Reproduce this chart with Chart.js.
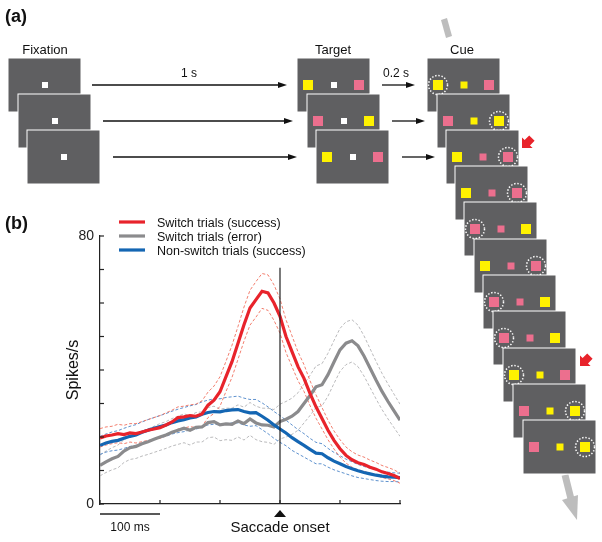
<!DOCTYPE html>
<html lang="en">

<head>
    <meta charset="UTF-8">
    <title>Switch trials - spikes around saccade onset</title>
    <style>
        * {
            margin: 0;
            padding: 0;
            box-sizing: border-box;
        }

        html,
        body {
            width: 602px;
            height: 542px;
            overflow: hidden;
            background: #fff;
            font-family: Arial, "Liberation Sans", sans-serif;
        }

        #wrap {
            position: absolute;
            left: 0;
            top: 190px;
            width: 420px;
            height: 352px;
        }

        #diagram {
            position: absolute;
            left: 0;
            top: 0;
            width: 602px;
            height: 542px;
            pointer-events: none;
        }
    </style>
    <script src="https://cdn.jsdelivr.net/npm/chart.js"></script>
</head>

<body>
    <div id="wrap">
        <canvas id="rateChart"></canvas>
    </div>
    <svg id="diagram" xmlns="http://www.w3.org/2000/svg" width="602" height="542"></svg>

    <script>
        // time relative to saccade onset (ms)
        const times = [-300, -290, -280, -270, -260, -250, -240, -230, -220, -210,
            -200, -190, -180, -170, -160, -150, -140, -130, -120, -110,
            -100, -90, -80, -70, -60, -50, -40, -30, -20, -10,
            0, 10, 20, 30, 40, 50, 60, 70, 80, 90,
            100, 110, 120, 130, 140, 150, 160, 170, 180, 190, 200];

        const seriesNames = ['Switch trials (success)', 'Switch trials (error)', 'Non-switch trials (success)'];

        // spikes/s
        const switchSuccess = [19.7, 20.3, 20.6, 21.0, 20.7, 21.2, 21.0, 21.5, 22.0, 22.4,
            22.8, 23.6, 24.5, 25.8, 26.0, 26.4, 26.2, 26.9, 29.5, 31.0,
            33.5, 38.0, 42.5, 48.0, 53.5, 58.5, 61.0, 63.5, 63.0, 60.0,
            56.0, 50.0, 45.5, 41.0, 37.5, 33.0, 29.0, 25.5, 22.0, 19.0,
            16.5, 14.5, 13.2, 12.3, 11.8, 11.0, 10.4, 9.6, 9.1, 8.5, 7.6];
        const switchSuccessUpper = [22.5, 23.0, 23.2, 23.8, 23.5, 24.0, 24.0, 24.6, 25.2, 25.8,
            26.4, 27.2, 28.0, 29.0, 29.2, 29.6, 29.8, 30.8, 33.4, 35.2,
            38.0, 42.6, 47.4, 53.0, 58.8, 63.8, 66.4, 68.8, 68.4, 65.4,
            61.2, 55.0, 50.2, 45.4, 41.6, 36.8, 32.6, 28.8, 25.0, 21.8,
            19.2, 17.0, 15.6, 14.6, 14.0, 13.1, 12.4, 11.5, 10.9, 10.2, 9.2];
        const switchSuccessLower = [17.0, 17.6, 18.0, 18.3, 18.0, 18.5, 18.2, 18.6, 19.0, 19.3,
            19.6, 20.3, 21.1, 22.4, 22.7, 23.1, 22.8, 23.2, 25.8, 27.0,
            29.2, 33.6, 37.8, 43.2, 48.6, 53.4, 55.8, 58.4, 57.8, 54.8,
            51.0, 45.2, 41.0, 36.8, 33.6, 29.4, 25.6, 22.4, 19.2, 16.4,
            14.0, 12.2, 11.0, 10.2, 9.8, 9.1, 8.6, 7.9, 7.5, 7.0, 6.2];

        const switchError = [11.5, 12.6, 13.5, 14.2, 15.8, 16.8, 17.2, 18.0, 18.6, 19.3,
            20.0, 20.6, 21.4, 22.0, 22.6, 22.0, 22.9, 23.0, 24.3, 24.6,
            23.6, 23.9, 23.8, 24.8, 24.0, 25.4, 24.2, 23.6, 23.5, 23.0,
            24.6, 25.3, 26.2, 27.6, 30.0, 32.4, 35.0, 35.6, 38.6, 42.4,
            46.0, 48.0, 48.7, 47.2, 44.2, 40.6, 37.0, 33.6, 30.6, 27.8, 25.0];
        const switchErrorUpper = [14.6, 15.8, 16.8, 17.6, 19.2, 20.3, 20.8, 21.7, 22.4, 23.2,
            24.0, 24.6, 25.5, 26.2, 26.9, 26.4, 27.3, 27.5, 28.8, 29.2,
            28.3, 28.6, 28.6, 29.6, 28.9, 30.3, 29.2, 28.6, 28.6, 28.2,
            29.8, 30.6, 31.6, 33.2, 35.8, 38.4, 41.2, 41.9, 45.0, 48.8,
            52.4, 54.4, 55.0, 53.4, 50.2, 46.4, 42.6, 39.0, 35.8, 32.8, 29.8];
        const switchErrorLower = [8.4, 9.4, 10.2, 10.8, 12.4, 13.3, 13.6, 14.3, 14.8, 15.4,
            16.0, 16.6, 17.3, 17.8, 18.3, 17.6, 18.5, 18.5, 19.8, 20.0,
            18.9, 19.2, 19.0, 20.0, 19.1, 20.5, 19.2, 18.6, 18.4, 17.8,
            19.4, 20.0, 20.8, 22.0, 24.2, 26.4, 28.8, 29.3, 32.2, 36.0,
            39.6, 41.6, 42.4, 41.0, 38.2, 34.8, 31.4, 28.2, 25.4, 22.8, 20.2];

        const nonSwitch = [17.5, 18.2, 18.7, 19.0, 19.6, 20.2, 20.6, 21.4, 22.0, 22.6,
            23.1, 23.6, 24.3, 24.8, 25.2, 25.7, 26.0, 26.8, 27.3, 27.6,
            27.5, 27.9, 28.1, 28.2, 27.6, 27.2, 27.3, 26.2, 25.0, 23.6,
            22.4, 21.2, 19.8, 18.6, 17.5, 16.3, 15.2, 15.0, 13.8, 12.8,
            12.0, 11.2, 10.5, 9.9, 9.4, 9.0, 8.6, 8.3, 8.1, 8.0, 7.9];
        const nonSwitchUpper = [20.2, 20.9, 21.5, 21.9, 22.6, 23.2, 23.7, 24.5, 25.2, 25.8,
            26.4, 27.0, 27.7, 28.3, 28.8, 29.3, 29.7, 30.5, 31.0, 31.4,
            31.4, 31.8, 32.0, 32.2, 31.6, 31.2, 31.2, 30.2, 29.0, 27.6,
            26.4, 25.0, 23.6, 22.2, 21.0, 19.6, 18.4, 18.0, 16.6, 15.4,
            14.4, 13.4, 12.6, 11.8, 11.2, 10.7, 10.2, 9.8, 9.5, 9.3, 9.2];
        const nonSwitchLower = [14.8, 15.5, 15.9, 16.1, 16.6, 17.2, 17.5, 18.3, 18.8, 19.4,
            19.8, 20.2, 20.9, 21.3, 21.6, 22.1, 22.3, 23.1, 23.6, 23.8,
            23.6, 24.0, 24.2, 24.2, 23.6, 23.2, 23.4, 22.2, 21.0, 19.6,
            18.4, 17.4, 16.0, 15.0, 14.0, 13.0, 12.0, 12.0, 11.0, 10.2,
            9.6, 9.0, 8.4, 7.9, 7.6, 7.3, 7.0, 6.8, 6.7, 6.7, 6.6];

        const onsetTime = 0;
        const onsetLineTop = 70.5;
        const yTickValues = [0, 10, 20, 30, 40, 50, 60, 70, 80];
        const yTickLabels = ['0', '', '', '', '', '', '', '', '80'];
        const xTickValues = [-300, -200, -100, 0, 100, 200];
        const scaleBarMs = [-300, -200];

        const RED = '#e8232b';
        const GRAY = '#8b8b8d';
        const BLUE = '#1466b3';
        const FONT = 'Arial, "Liberation Sans", sans-serif';

        function pts(vals) {
            return times.map((t, i) => ({ x: t, y: vals[i] }));
        }

        function band(vals, color, order) {
            return {
                data: pts(vals),
                borderColor: color,
                borderWidth: 0.9,
                borderDash: [3, 2],
                pointRadius: 0,
                fill: false,
                order: order
            };
        }

        function mainLine(label, vals, color, order) {
            return {
                label: label,
                data: pts(vals),
                borderColor: color,
                borderWidth: 3.2,
                pointRadius: 0,
                fill: false,
                order: order
            };
        }

        // extra marks: inward ticks, onset marker, scale bar
        const extras = {
            id: 'extras',
            afterDraw(chart) {
                const ctx = chart.ctx;
                const xs = chart.scales.x;
                const ys = chart.scales.y;
                const area = chart.chartArea;
                ctx.save();
                ctx.strokeStyle = '#222';
                ctx.lineWidth = 1.2;
                yTickValues.forEach(v => {
                    const py = ys.getPixelForValue(v);
                    ctx.beginPath();
                    ctx.moveTo(area.left, py);
                    ctx.lineTo(area.left + 4, py);
                    ctx.stroke();
                });
                xTickValues.forEach(v => {
                    const px = xs.getPixelForValue(v);
                    ctx.beginPath();
                    ctx.moveTo(px, area.bottom);
                    ctx.lineTo(px, area.bottom - 4);
                    ctx.stroke();
                });

                // triangle at saccade onset
                const x0 = xs.getPixelForValue(onsetTime);
                ctx.fillStyle = '#111';
                ctx.beginPath();
                ctx.moveTo(x0, area.bottom + 6);
                ctx.lineTo(x0 + 6, area.bottom + 13);
                ctx.lineTo(x0 - 6, area.bottom + 13);
                ctx.closePath();
                ctx.fill();

                ctx.textAlign = 'center';
                ctx.textBaseline = 'middle';
                ctx.font = '15px ' + FONT;
                ctx.fillText('Saccade onset', x0, area.bottom + 24);

                // 100 ms scale bar
                const b1 = xs.getPixelForValue(scaleBarMs[0]);
                const b2 = xs.getPixelForValue(scaleBarMs[1]);
                ctx.lineWidth = 1.6;
                ctx.beginPath();
                ctx.moveTo(b1, area.bottom + 10);
                ctx.lineTo(b2, area.bottom + 10);
                ctx.stroke();
                ctx.font = '12px ' + FONT;
                ctx.fillText('100 ms', (b1 + b2) / 2, area.bottom + 24);
                ctx.restore();
            }
        };

        const chart = new Chart(document.getElementById('rateChart'), {
            type: 'line',
            data: {
                datasets: [
                    mainLine(seriesNames[0], switchSuccess, RED, 1),
                    mainLine(seriesNames[2], nonSwitch, BLUE, 2),
                    mainLine(seriesNames[1], switchError, GRAY, 3),
                    band(switchSuccessUpper, '#f0705f', 4),
                    band(switchSuccessLower, '#f0705f', 4),
                    band(nonSwitchUpper, '#4d86c8', 5),
                    band(nonSwitchLower, '#4d86c8', 5),
                    band(switchErrorUpper, '#b2b2b4', 6),
                    band(switchErrorLower, '#b2b2b4', 6),
                    {
                        data: [{ x: onsetTime, y: 0 }, { x: onsetTime, y: onsetLineTop }],
                        borderColor: '#222',
                        borderWidth: 1.2,
                        pointRadius: 0,
                        order: 0
                    }
                ]
            },
            options: {
                responsive: true,
                maintainAspectRatio: false,
                animation: false,
                layout: { padding: { top: 46, right: 20, left: 0, bottom: 0 } },
                plugins: {
                    legend: { display: false },
                    tooltip: { enabled: false }
                },
                scales: {
                    x: {
                        type: 'linear',
                        min: -300,
                        max: 200,
                        grid: { display: false, drawTicks: false },
                        border: { display: true, color: '#222', width: 1.2 },
                        ticks: { display: false, stepSize: 100 },
                        afterFit(scale) { scale.height = 38; }
                    },
                    y: {
                        min: 0,
                        max: 80,
                        grid: { display: false, drawTicks: false },
                        border: { display: true, color: '#222', width: 1.2 },
                        ticks: {
                            stepSize: 10,
                            padding: 6,
                            color: '#222',
                            font: { family: FONT, size: 14 },
                            callback: (v, i) => yTickLabels[i]
                        },
                        title: {
                            display: true,
                            text: 'Spikes/s',
                            color: '#111',
                            font: { family: FONT, size: 16 },
                            padding: { top: 64, bottom: 0 }
                        },
                        afterFit(scale) { scale.width = 100; }
                    }
                }
            },
            plugins: [extras]
        });

        // ---- panel (a) task diagram and panel labels ----
        const NS = 'http://www.w3.org/2000/svg';
        const svg = document.getElementById('diagram');
        function el(tag, attrs, text) {
            const e = document.createElementNS(NS, tag);
            for (const k in attrs) e.setAttribute(k, attrs[k]);
            if (text) e.textContent = text;
            svg.appendChild(e);
            return e;
        }
        const colorOf = { Y: '#fff200', P: '#ec6f8e', W: '#ffffff' };
        const SW = 73, SH = 54;

        function screen(x, y, items, circle) {
            el('rect', { x: x, y: y, width: SW, height: SH, fill: '#5f5f61', stroke: '#fff', 'stroke-width': 1 });
            if (items.length === 1) {
                el('rect', { x: x + 34, y: y + 24, width: 6, height: 6, fill: colorOf.W });
                return;
            }
            el('rect', { x: x + 6, y: y + 22, width: 10, height: 10, fill: colorOf[items[0]] });
            const cs = items[1] === 'W' ? 6 : 7;
            el('rect', { x: x + 37 - cs / 2, y: y + 27 - cs / 2, width: cs, height: cs, fill: colorOf[items[1]] });
            el('rect', { x: x + 57, y: y + 22, width: 10, height: 10, fill: colorOf[items[2]] });
            if (circle) {
                const cx = circle === 'L' ? x + 11 : x + 62;
                el('circle', { cx: cx, cy: y + 27, r: 9.5, fill: 'none', stroke: '#fff', 'stroke-width': 1.5, 'stroke-dasharray': '1.4 1.8' });
            }
        }

        function arrow(x1, x2, y) {
            el('line', { x1: x1, y1: y, x2: x2 - 7, y2: y, stroke: '#111', 'stroke-width': 1.3 });
            el('polygon', { points: `${x2},${y} ${x2 - 9},${y - 3} ${x2 - 9},${y + 3}`, fill: '#111' });
        }

        function redArrow(tx, ty) {
            el('polygon', {
                points: '0,0 7.5,-7.5 7.5,-3.8 14,-3.8 14,3.8 7.5,3.8 7.5,7.5',
                fill: '#e8232b',
                transform: `translate(${tx},${ty}) rotate(-45)`
            });
        }

        const fixLefts = [8, 18, 27];
        const rowTops = [58, 94, 130];
        const targetLefts = [297, 307, 316];
        const targetItems = [['Y', 'W', 'P'], ['P', 'W', 'Y'], ['Y', 'W', 'P']];
        const cueLefts = [427, 437, 446, 455, 464, 474, 483, 493, 503, 513, 523];
        const cueTops = [58, 94, 130, 166, 202, 239, 275, 311, 348, 384, 420];
        const cueItems = [['Y', 'Y', 'P', 'L'], ['P', 'Y', 'Y', 'R'], ['Y', 'P', 'P', 'R'], ['Y', 'P', 'P', 'R'],
            ['P', 'P', 'Y', 'L'], ['Y', 'P', 'P', 'R'], ['P', 'P', 'Y', 'L'], ['P', 'P', 'Y', 'L'],
            ['Y', 'Y', 'P', 'L'], ['P', 'Y', 'Y', 'R'], ['P', 'Y', 'Y', 'R']];

        // gray top bar and down arrow
        el('polygon', { points: '441,20 447,18 452,36 446,38', fill: '#bdbdbd' });
        el('line', { x1: 565, y1: 475, x2: 571, y2: 499, stroke: '#bdbdbd', 'stroke-width': 7 });
        el('polygon', { points: '577,520 578,495 562,500', fill: '#bdbdbd' });

        fixLefts.forEach((x, i) => screen(x, rowTops[i], ['W']));
        targetLefts.forEach((x, i) => screen(x, rowTops[i], targetItems[i]));
        cueLefts.forEach((x, i) => screen(x, cueTops[i], cueItems[i].slice(0, 3), cueItems[i][3]));

        arrow(92, 287, 85); arrow(103, 293, 121); arrow(113, 297, 157);
        arrow(382, 415, 85); arrow(392, 425, 121); arrow(402, 435, 157);
        redArrow(522, 148);
        redArrow(580, 366);

        const txt = { 'font-family': FONT, fill: '#111' };
        el('text', Object.assign({ x: 5, y: 22, 'font-size': 18, 'font-weight': 'bold' }, txt), '(a)');
        el('text', Object.assign({ x: 5, y: 229, 'font-size': 18, 'font-weight': 'bold' }, txt), '(b)');
        el('text', Object.assign({ x: 45, y: 54, 'font-size': 13, 'text-anchor': 'middle' }, txt), 'Fixation');
        el('text', Object.assign({ x: 333, y: 54, 'font-size': 13, 'text-anchor': 'middle' }, txt), 'Target');
        el('text', Object.assign({ x: 462, y: 54, 'font-size': 13, 'text-anchor': 'middle' }, txt), 'Cue');
        el('text', Object.assign({ x: 189, y: 77, 'font-size': 12, 'text-anchor': 'middle' }, txt), '1 s');
        el('text', Object.assign({ x: 396, y: 77, 'font-size': 12, 'text-anchor': 'middle' }, txt), '0.2 s');

        // legend for panel (b)
        const legendColors = [RED, GRAY, BLUE];
        const legendY = [222, 236, 250];
        seriesNames.forEach((name, i) => {
            el('line', { x1: 119, y1: legendY[i], x2: 145, y2: legendY[i], stroke: legendColors[i], 'stroke-width': 3.2 });
            el('text', Object.assign({ x: 157, y: legendY[i] + 4.5, 'font-size': 12.5 }, txt), name);
        });
    </script>
</body>

</html>
